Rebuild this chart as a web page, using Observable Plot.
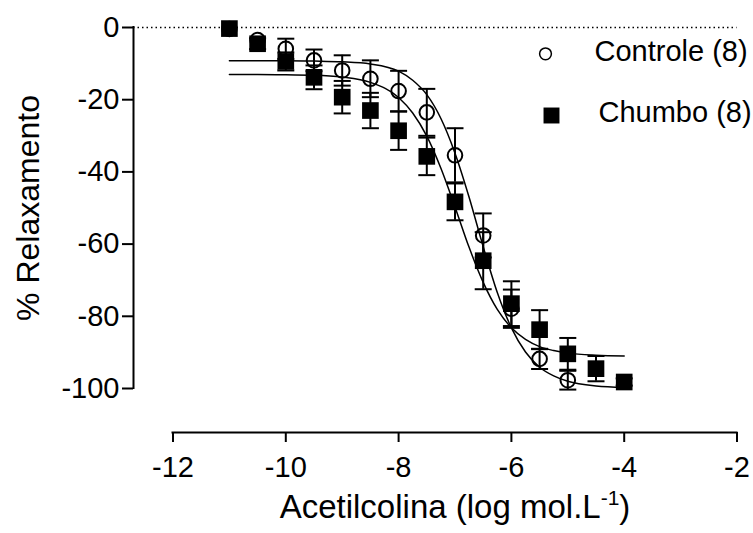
<!DOCTYPE html>
<html><head><meta charset="utf-8">
<script src="https://cdn.jsdelivr.net/npm/d3@7"></script>
<script src="https://cdn.jsdelivr.net/npm/@observablehq/plot@0.6"></script>
<style>
body{margin:0;background:#fff;}
</style></head><body><div id="chart"></div>
<script>
// ---- data ----
const doses = [-11, -10.5, -10, -9.5, -9, -8.5, -8, -7.5, -7, -6.5, -6, -5.5, -5, -4.5, -4];
const controleMean = [-0.4, -3.5, -5.9, -9.1, -11.9, -14.2, -17.6, -23.5, -35.4, -57.6, -77.9, -91.8, -97.7];
const controleSem  = [0, 0, 2.8, 3.0, 4.2, 5.1, 5.6, 6.5, 7.5, 6.1, 5.3, 2.8, 2.6];
const chumboMean = [-0.3, -4.5, -9.4, -13.8, -19.3, -23.0, -28.6, -35.7, -48.3, -64.6, -76.5, -83.7, -90.4, -94.5, -98.2];
const chumboSem  = [0, 1.5, 2.5, 3.3, 4.5, 4.9, 5.3, 5.2, 5.1, 7.9, 6.2, 5.4, 4.4, 3.5, 1];
const fitX = [-11, -10.5, -10, -9.5, -9, -8.5, -8, -7.75, -7.5, -7.25, -7, -6.75, -6.5, -6.25, -6, -5.75, -5.5, -5.25, -5, -4.5, -4];
const controleFit = [-9.2, -9.2, -9.2, -9.3, -9.5, -10.1, -12.1, -14.6, -18.6, -25.2, -34.8, -47.0, -60.7, -73.4, -83.2, -89.9, -94.1, -96.5, -98.0, -99.3, -99.7];
const chumboFit = [-13.0, -13.0, -13.1, -13.2, -13.7, -15.2, -19.4, -23.7, -30.1, -39.0, -49.7, -60.9, -70.6, -78.1, -83.2, -86.4, -88.4, -89.5, -90.2, -90.8, -91.0];
const xTicks = [-12, -10, -8, -6, -4, -2];
const yTicks = [0, -20, -40, -60, -80, -100];
const seriesNames = ["Controle (8)", "Chumbo (8)"];
const xLabelMain = "Acetilcolina (log mol.L";
const xLabelSup = "-1";
const xLabelEnd = ")";
const yLabel = "% Relaxamento";
const xDomain = [-12, -2];
const yDomain = [-100, 0];

// ---- tables ----
const ctrl = controleMean.map((m, i) => ({x: doses[i], y: m, e: controleSem[i]}));
const chum = chumboMean.map((m, i) => ({x: doses[i], y: m, e: chumboSem[i]}));
const fits = [
  ...fitX.map((x, i) => ({x, y: controleFit[i], s: seriesNames[0]})),
  ...fitX.map((x, i) => ({x, y: chumboFit[i], s: seriesNames[1]}))
];
const xLabel = xLabelMain + xLabelSup + xLabelEnd;
const fmt = d => String(d);
const cap = {draw(ctx) { ctx.moveTo(-8.5, 0); ctx.lineTo(8.5, 0); }};

const errMarks = (data) => [
  Plot.ruleX(data.filter(d => d.e > 0), {x: "x", y1: d => d.y - d.e, y2: d => d.y + d.e, strokeWidth: 2}),
  Plot.dot(data.filter(d => d.e > 0), {x: "x", y: d => d.y + d.e, symbol: cap, stroke: "black", strokeWidth: 2}),
  Plot.dot(data.filter(d => d.e > 0), {x: "x", y: d => d.y - d.e, symbol: cap, stroke: "black", strokeWidth: 2})
];

const chart = Plot.plot({
  width: 753, height: 533,
  marginLeft: 172.5, marginRight: 16.5, marginTop: 27, marginBottom: 145,
  style: {fontFamily: "'Liberation Sans', Arial, sans-serif", color: "black", background: "white", overflow: "visible"},
  x: {domain: xDomain, axis: null},
  y: {domain: yDomain, axis: null},
  marks: [
    Plot.ruleY([0], {insetLeft: -39.5, strokeDasharray: "1.5,3", strokeWidth: 1.5}),
    Plot.ruleX([xDomain[0]], {y1: yDomain[0], y2: yDomain[1], dx: -39.5, strokeWidth: 2, strokeLinecap: "square"}),
    Plot.axisY({ticks: yTicks, anchor: "left", tickSize: 11, tickPadding: 3, tickFormat: fmt, fontSize: 29, strokeWidth: 2, dx: -39.5, label: null}),
    Plot.ruleY([yDomain[0]], {x1: xDomain[0], x2: xDomain[1], dy: 44, strokeWidth: 2, strokeLinecap: "square"}),
    Plot.axisX({ticks: xTicks, anchor: "bottom", tickSize: 10, tickPadding: 14, tickFormat: fmt, fontSize: 29, strokeWidth: 2, dy: 44, label: null}),
    Plot.line(fits, {x: "x", y: "y", z: "s", curve: "monotone-x", strokeWidth: 1.5}),
    ...errMarks(ctrl),
    Plot.dot(ctrl, {x: "x", y: "y", r: 7.3, stroke: "black", strokeWidth: 2, fill: "none"}),
    ...errMarks(chum),
    Plot.dot(chum, {x: "x", y: "y", symbol: "square", r: 9.4, fill: "black"}),
    // legend
    Plot.dot([seriesNames[0]], {frameAnchor: "top-left", dx: 372.5, dy: 26.3, r: 5.9, stroke: "black", strokeWidth: 1.5, fill: "none"}),
    Plot.text([seriesNames[0]], {frameAnchor: "top-left", dx: 421.5, dy: 24, textAnchor: "start", lineAnchor: "middle", fontSize: 29}),
    Plot.dot([seriesNames[1]], {frameAnchor: "top-left", dx: 378.5, dy: 88, symbol: "square", r: 9.0, fill: "black"}),
    Plot.text([seriesNames[1]], {frameAnchor: "top-left", dx: 425.5, dy: 85.5, textAnchor: "start", lineAnchor: "middle", fontSize: 29}),
    // titles
    Plot.text([yLabel], {frameAnchor: "left", dx: -144.5, rotate: -90, textAnchor: "middle", lineAnchor: "middle", fontSize: 32}),
    Plot.text([xLabel], {frameAnchor: "bottom", dy: 119, textAnchor: "middle", lineAnchor: "middle", fontSize: 33})
  ]
});
document.getElementById("chart").appendChild(chart);

// superscript in the x title
d3.select(chart).selectAll("text").filter(function() { return this.textContent === xLabel; })
  .each(function() {
    const t = d3.select(this);
    t.text(null);
    t.append("tspan").text(xLabelMain);
    t.append("tspan").attr("font-size", 21).attr("dy", -13).text(xLabelSup);
    t.append("tspan").attr("dy", 13).text(xLabelEnd);
  });
</script></body></html>
